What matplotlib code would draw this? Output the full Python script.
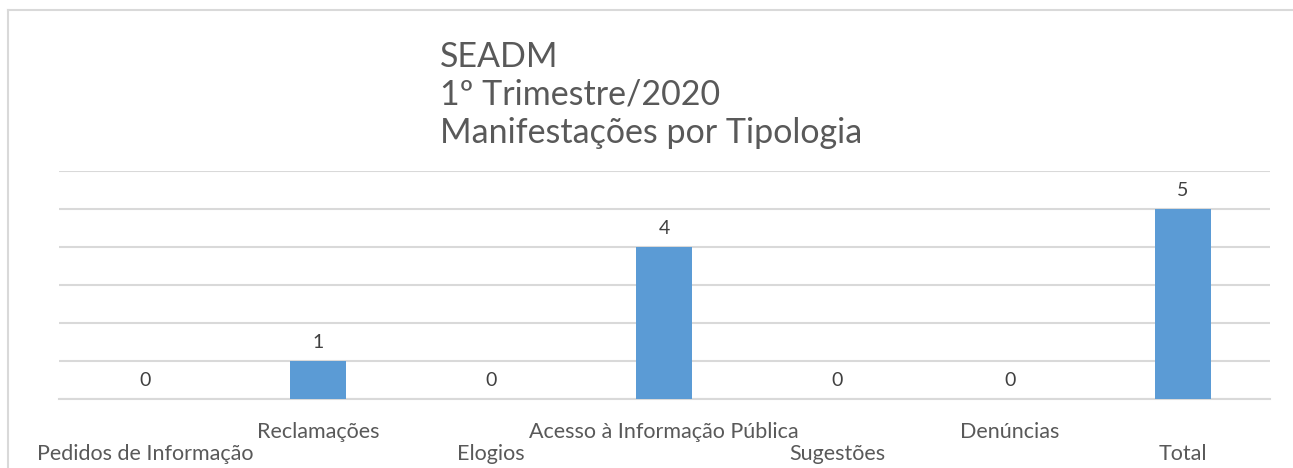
import matplotlib
matplotlib.use("Agg")
import matplotlib.pyplot as plt
from matplotlib.lines import Line2D

categorias = ["Pedidos de Informação", "Reclamações", "Elogios",
              "Acesso à Informação Pública", "Sugestões", "Denúncias", "Total"]
valores = [0, 1, 0, 4, 0, 0, 5]
titulo = "SEADM\n1º Trimestre/2020\nManifestações por Tipologia"

plt.rcParams['font.family'] = ['Lato', 'DejaVu Sans']

fig = plt.figure(figsize=(12.93, 4.68), dpi=100)
ax = fig.add_axes([58.5/1293, 1-399/468, 1211/1293, 228/468])

x = list(range(len(categorias)))
barras = ax.bar(x, valores, width=0.32, color="#5B9BD5", zorder=3)
ax.bar_label(barras, padding=7, fontsize=14, color="#404040")

ax.set_xlim(-0.5, len(categorias)-0.5)
ax.set_ylim(0, 6)
ax.set_yticks(range(0, 7))
ax.yaxis.grid(True, color="#D9D9D9", linewidth=1.5)
ax.tick_params(axis="y", left=False, labelleft=False)
ax.tick_params(axis="x", length=0, pad=16.5, labelsize=15.5, labelcolor="#595959")
for s in ["top", "right", "left"]:
    ax.spines[s].set_visible(False)
ax.spines["bottom"].set_color("#D9D9D9")
ax.spines["bottom"].set_linewidth(1.5)

rotulos = [("\n" + c) if i % 2 == 0 else c for i, c in enumerate(categorias)]
ax.set_xticks(x)
ax.set_xticklabels(rotulos, va="top", linespacing=1.16)

fig.text(440/1293, 1-41/468, titulo, fontsize=24.5, color="#595959",
         ha="left", va="top", linespacing=1.23)

# borda do gráfico
fig.add_artist(Line2D([8/1293, 8/1293], [0, 1-10/468], transform=fig.transFigure,
                      color="#D9D9D9", linewidth=1.5))
fig.add_artist(Line2D([8/1293, 1], [1-10/468, 1-10/468], transform=fig.transFigure,
                      color="#D9D9D9", linewidth=1.5))

fig.savefig("out.png", dpi=100)
